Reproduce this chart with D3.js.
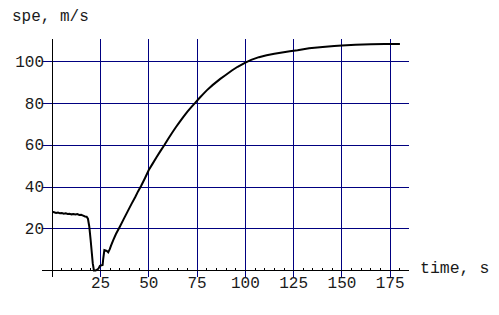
<!DOCTYPE html>
<html>
<head>
<meta charset="utf-8">
<script src="https://cdn.jsdelivr.net/npm/d3@7"></script>
<style>
  body { margin: 0; background: #fff; }
  text { font-family: "Liberation Mono", "DejaVu Sans Mono", monospace; }
</style>
</head>
<body>
<div class="chart"></div>
<script>
// measured speed vs time
const timeVals = [0, 1, 2, 3, 4, 5, 6, 7, 8, 9, 10, 11, 12, 13, 14, 15, 16, 17, 17.8, 18.5,
  19.2, 19.9, 20.5, 21, 21.6, 22.5, 23.3, 24, 24.7, 26.1, 26.4, 27, 27.6, 28.2, 29, 29.8, 30.5,
  31.6, 33, 35, 37, 39, 41, 43, 44.5, 46, 48, 50, 52, 54, 56, 58, 60, 62, 64, 66, 68, 70, 72,
  74, 76, 78, 80, 83, 87, 90, 93, 96, 100, 103, 107, 111, 115, 119, 123, 127, 133, 140, 146,
  150, 157, 165, 172, 180];
const speedVals = [28.1, 27.9, 27.6, 27.8, 27.4, 27.5, 27.2, 27.4, 27.1, 27.2, 26.9, 27.1, 26.8,
  27.0, 26.6, 26.7, 26.3, 25.9, 25.8, 24.8,
  21.0, 14.6, 8.5, 3.4, 0.0, 0.0, 0.4, 1.0, 2.2, 2.6, 5.5, 9.8, 9.6, 9.4, 8.7, 10.2, 12.0,
  14.6, 17.5, 21.0, 24.6, 28.2, 31.8, 35.2, 38.0, 40.5, 44.2, 48.1, 51.2, 54.3, 57.2, 60.0,
  63.0, 65.9, 68.6, 71.2, 73.7, 76.1, 78.3, 80.3, 82.4, 84.4, 86.3, 88.8, 91.8, 93.8, 95.8,
  97.6, 99.6, 100.9, 102.2, 103.1, 103.8, 104.4, 105.0, 105.5, 106.5, 107.1, 107.6,
  107.8, 108.1, 108.4, 108.5, 108.5];
const xTicks = [25, 50, 75, 100, 125, 150, 175];
const yTicks = [20, 40, 60, 80, 100];
const xTitle = 'time, s';
const yTitle = 'spe, m/s';

const width = 499;
const height = 315;
const svg = d3.select('.chart').append('svg')
    .attr('width', width)
    .attr('height', height);

// scales (plot area 52..409 x 39..270)
const x = d3.scaleLinear().domain([0, 184.7]).range([52.2, 409]);
const y = d3.scaleLinear().domain([0, 110.9]).range([270.5, 39]);
// snap to pixel centre for crisp 1px lines
const px = v => Math.floor(v) + 0.5;

const navy = '#000080';
const grid = svg.append('g').attr('shape-rendering', 'crispEdges');
// vertical grid lines + ticks below axis
grid.selectAll('.vgrid')
    .data(xTicks)
    .enter()
    .append('line')
    .attr('x1', d => px(x(d))).attr('x2', d => px(x(d)))
    .attr('y1', y(110.9)).attr('y2', y(0) + 6)
    .attr('stroke', navy)
    .attr('stroke-width', 1);
// horizontal grid lines + ticks left of axis
grid.selectAll('.hgrid')
    .data(yTicks)
    .enter()
    .append('line')
    .attr('x1', x(0) - 10).attr('x2', x(184.7))
    .attr('y1', d => px(y(d))).attr('y2', d => px(y(d)))
    .attr('stroke', navy)
    .attr('stroke-width', 1);

// axes
grid.append('line')
    .attr('x1', x(0) - 10).attr('x2', x(184.7))
    .attr('y1', px(y(0))).attr('y2', px(y(0)))
    .attr('stroke', '#000');
grid.append('line')
    .attr('x1', px(x(0))).attr('x2', px(x(0)))
    .attr('y1', y(110.9)).attr('y2', y(0) + 6)
    .attr('stroke', '#000');
// minor ticks every 5
const minor = d3.range(5, 185, 5).filter(d => d % 25 !== 0);
grid.selectAll('.minor')
    .data(minor)
    .enter()
    .append('line')
    .attr('x1', d => px(x(d))).attr('x2', d => px(x(d)))
    .attr('y1', px(y(0))).attr('y2', px(y(0)) - 3)
    .attr('stroke', '#000');

// tick labels
svg.selectAll('.xlab')
    .data(xTicks)
    .enter()
    .append('text')
    .attr('x', d => x(d))
    .attr('y', 288)
    .attr('text-anchor', 'middle')
    .attr('font-size', 16)
    .attr('fill', '#1a1a1a')
    .text(d => d);
svg.selectAll('.ylab')
    .data(yTicks)
    .enter()
    .append('text')
    .attr('x', 44)
    .attr('y', d => y(d) + 5)
    .attr('text-anchor', 'end')
    .attr('font-size', 16)
    .attr('fill', '#1a1a1a')
    .text(d => d);

// titles
svg.append('text')
    .attr('x', 12).attr('y', 21)
    .attr('font-size', 16)
    .attr('fill', '#1a1a1a')
    .text(yTitle);
svg.append('text')
    .attr('x', 420).attr('y', 273)
    .attr('font-size', 16.5)
    .attr('fill', '#1a1a1a')
    .text(xTitle);

// the curve
const pts = timeVals.map((t, i) => [t, speedVals[i]]);
const line = d3.line()
    .x(d => x(d[0]))
    .y(d => y(d[1]));
svg.append('path')
    .datum(pts)
    .attr('d', line)
    .attr('fill', 'none')
    .attr('stroke', '#000')
    .attr('stroke-width', 2);
</script>
</body>
</html>
